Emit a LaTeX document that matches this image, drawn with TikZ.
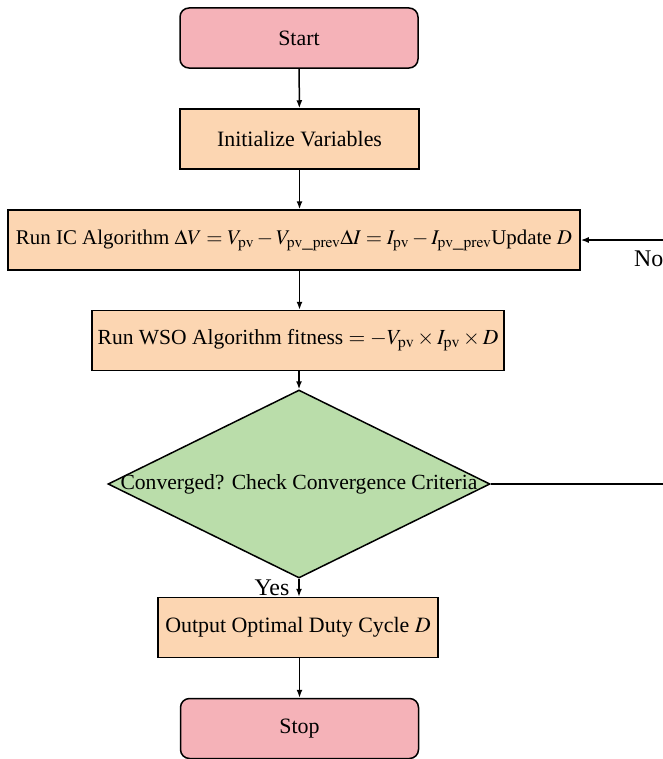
\documentclass[tikz,border=0pt]{standalone}
\usepackage{mathptmx}
\usepackage{fontspec}
\setmainfont{Liberation Serif}
\usetikzlibrary{shapes.geometric,arrows.meta}
\definecolor{termpink}{RGB}{245,178,184}
\definecolor{procpeach}{RGB}{252,214,178}
\definecolor{decgreen}{RGB}{186,221,170}
\begin{document}
\begin{tikzpicture}[x=1bp,y=-1bp,
  base/.style={draw=black, line width=1.5bp, inner sep=0pt, font=\fontsize{22}{26}\selectfont},
  term/.style={base, rounded corners=9bp, fill=termpink, minimum width=238bp, minimum height=60bp},
  proc/.style={base, fill=procpeach, minimum height=60bp},
  dec/.style={base, diamond, fill=decgreen, minimum width=382bp, minimum height=188bp, font=\fontsize{21.7}{26}\selectfont},
  lbl/.style={inner sep=0pt, font=\fontsize{24}{28}\selectfont},
  arr/.style={-{Latex[length=8bp,width=6bp]}, line width=1.5bp}]
\useasboundingbox (0,0) rectangle (663,759);
\clip (0,0) rectangle (663,759);
\node[term] (start) at (299,38) {Start};
\node[proc, minimum width=239bp] (init) at (299.5,139) {Initialize Variables};
\node[proc, minimum width=572bp, font=\fontsize{21}{25}\selectfont] (ic) at (294,240) {\makebox[0pt]{Run IC Algorithm $\Delta V = V_{\mathrm{pv}} - V_{\mathrm{pv\_prev}}\Delta I = I_{\mathrm{pv}} - I_{\mathrm{pv\_prev}}$Update $D$}};
\node[proc, minimum width=412bp, font=\fontsize{21.6}{26}\selectfont] (wso) at (298,340.5) {Run WSO Algorithm fitness $= -V_{\mathrm{pv}} \times I_{\mathrm{pv}} \times D$};
\node[dec] (dec) at (299,484) {\makebox[0pt]{Converged? Check Convergence Criteria}};
\node[proc, minimum width=280bp] (out) at (298,627.5) {Output Optimal Duty Cycle $D$};
\node[term] (stop) at (299.5,728.5) {Stop};
\coordinate (r1) at (700,484);
\coordinate (r2) at (700,240);
\draw[arr] (start) -- (init);
\draw[arr] (init) -- (init |- ic.north);
\draw[arr] (ic.south -| init) -- (wso.north -| init);
\draw[arr] (wso.south -| dec) -- (dec.north);
\draw[arr] (dec.south) -- (out.north -| dec);
\draw[arr] (out.south -| stop) -- (stop);
\draw[arr] (dec.east) -- (r1) -- (r2) -- (ic.east);
\node[lbl, anchor=west] (no) at (634,259) {No};
\node[lbl] (yes) at (272,588) {Yes};
\end{tikzpicture}
\end{document}
